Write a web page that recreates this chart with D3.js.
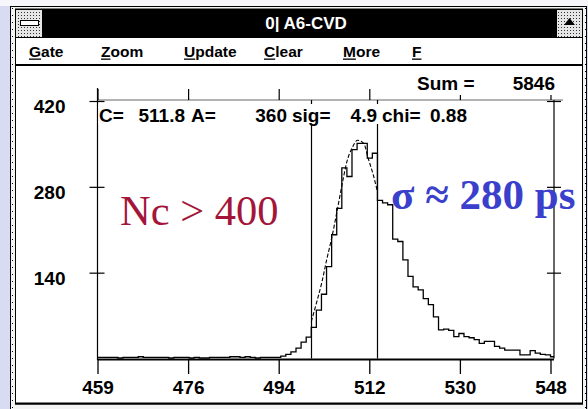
<!DOCTYPE html>
<html><head><meta charset="utf-8">
<script src="https://cdn.jsdelivr.net/npm/d3@7"></script>
<style>html,body{margin:0;padding:0;background:#dcdcf2;overflow:hidden}</style>
</head><body><svg id="c" width="588" height="409"></svg>
<script>
// ---------------- data ----------------
const windowTitle = "0| A6-CVD";
const menuItems = ["Gate", "Zoom", "Update", "Clear", "More", "F"];
const xTickLabels = ["459", "476", "494", "512", "530", "548"];
const xRange = [459, 548];
const yTickValues = [140, 280, 420];
const yMax = 420;
const firstChannel = 459;
const counts = [
  1,1,1,1,0,1,1,1,2,1, 1,1,1,1,0,1,1,1,0,1,   // 459-478
  0,0,1,1,1,1,2,2,1,2, 1,0,1,1,1,1,3,6,10,16, // 479-498
  26,34,50,78,104,149,201,244,310,296,       // 499-508
  340,350,350,326,334,257,253,250,194,190,   // 509-518
  160,133,116,111,97,87,67,46,47,45,         // 519-528
  35,40,35,33,30,24,27,27,19,16,             // 529-538
  13,13,13,5,5,12,8,6,5,2                    // 539-548
];
const fitX = [501.0, 502.0, 503.1, 504.0, 505.0, 506.4, 507.2, 508.0, 509.0, 510.1, 511.3, 512.2, 513.2, 514.0];
const fitY = [60, 90, 125, 160, 196, 255, 290, 321, 343, 356, 351, 326, 299, 272];
const markers = [501.0, 514.0];
const fitLabels = ["C=", "511.8", "A=", "360", "sig=", "4.9", "chi=", "0.88"];
const sumLabel = "Sum =";
const sumValue = "5846";
const noteLeft = "Nc > 400";
const noteRight = "σ ≈ 280 ps";

// ---------------- layout ----------------
const svg = d3.select("#c");
const W = 588, H = 409;
const plot = {left: 97.5, right: 554, top: 100, bottom: 358.5};
const x = d3.scaleLinear().domain(xRange).range([97.5, 550.5]);
const y = d3.scaleLinear().domain([0, yMax]).range([plot.bottom, 101]);
const sans = "'Liberation Sans', Arial, sans-serif";
const serif = "'Liberation Serif', 'Times New Roman', serif";

const defs = svg.append("defs");
const pat = defs.append("pattern").attr("id", "dots").attr("patternUnits", "userSpaceOnUse")
  .attr("width", 3).attr("height", 3);
pat.append("rect").attr("width", 3).attr("height", 3).attr("fill", "#e6e6e6");
pat.append("rect").attr("width", 1).attr("height", 1).attr("fill", "#333");
defs.append("clipPath").attr("id", "pclip").append("rect")
  .attr("x", plot.left).attr("y", plot.top).attr("width", plot.right - plot.left).attr("height", plot.bottom - plot.top + 1);

// background (slide)
svg.append("rect").attr("width", W).attr("height", H).attr("fill", "#d9dbf3");
svg.append("rect").attr("width", W).attr("height", 6).attr("fill", "#f6f6fb");

// window frame
svg.append("rect").attr("x", 10.5).attr("y", 6.5).attr("width", 576).attr("height", 404)
  .attr("fill", "#f4f4f4").attr("stroke", "#000");
svg.append("line").attr("x1", 12.5).attr("x2", 12.5).attr("y1", 8).attr("y2", 409)
  .attr("stroke", "#000").attr("stroke-dasharray", "1,6");
svg.append("line").attr("x1", 585.5).attr("x2", 585.5).attr("y1", 8).attr("y2", 409)
  .attr("stroke", "#000").attr("stroke-dasharray", "1,6");
svg.append("rect").attr("x", 15.5).attr("y", 9).attr("width", 567).attr("height", 395)
  .attr("fill", "#fff").attr("stroke", "#000");

// title bar
svg.append("rect").attr("x", 15).attr("y", 9).attr("width", 568).attr("height", 29).attr("fill", "#000");
svg.append("rect").attr("x", 16).attr("y", 10).attr("width", 26).attr("height", 27).attr("fill", "url(#dots)");
svg.append("rect").attr("x", 20.5).attr("y", 20.5).attr("width", 18).attr("height", 5)
  .attr("fill", "#fff").attr("stroke", "#000");
svg.append("rect").attr("x", 557).attr("y", 10).attr("width", 25).attr("height", 27).attr("fill", "url(#dots)");
svg.append("path").attr("d", "M569.5,18 L575,25 L564,25 Z").attr("fill", "#000");
svg.append("text").attr("x", 306).attr("y", 29).attr("text-anchor", "middle")
  .attr("font-family", sans).attr("font-weight", "bold").attr("font-size", 17)
  .attr("fill", "#fff").text(windowTitle);

// menu bar
svg.append("rect").attr("x", 16).attr("y", 38).attr("width", 566).attr("height", 26).attr("fill", "#fff");
svg.append("rect").attr("x", 15).attr("y", 64).attr("width", 568).attr("height", 2).attr("fill", "#000");
const menuX = [29, 101, 184, 264, 343, 412];
menuItems.forEach((m, i) => {
  const t = svg.append("text").attr("x", menuX[i]).attr("y", 57)
    .attr("font-family", sans).attr("font-weight", "bold").attr("font-size", 15.5).attr("fill", "#000");
  t.append("tspan").text(m[0]);
  t.append("tspan").text(m.slice(1));
  const w0 = t.node().getSubStringLength(0, 1);
  svg.append("rect").attr("x", menuX[i]).attr("y", 58.5).attr("width", w0).attr("height", 1.3).attr("fill", "#000");
});
// client bottom border
svg.append("rect").attr("x", 15).attr("y", 402.5).attr("width", 568).attr("height", 2).attr("fill", "#000");

// ---------------- plot ----------------
const g = svg.append("g");
// top line
g.append("line").attr("x1", plot.left).attr("x2", 563).attr("y1", plot.top).attr("y2", plot.top)
  .attr("stroke", "#666").attr("stroke-width", 1);
// marker lines
g.selectAll(".mk").data(markers).join("line")
  .attr("x1", d => Math.round(x(d)) + 0.5).attr("x2", d => Math.round(x(d)) + 0.5)
  .attr("y1", plot.top).attr("y2", plot.bottom).attr("stroke", "#000").attr("stroke-width", 1.2);

// histogram
const pts = counts.map((c, i) => [firstChannel + i, c]);
pts.push([firstChannel + counts.length, counts[counts.length - 1]]);
const hist = d3.line().x(d => x(d[0])).y(d => y(d[1]) - 0.5).curve(d3.curveStepAfter);
g.append("path").attr("d", hist(pts)).attr("fill", "none").attr("stroke", "#000")
  .attr("stroke-width", 1.3).attr("clip-path", "url(#pclip)");

// fit curve (dashed)
const fitLine = d3.line().x(d => x(d[0])).y(d => y(d[1])).curve(d3.curveMonotoneX);
g.append("path").attr("d", fitLine(fitX.map((v, i) => [v, fitY[i]])))
  .attr("fill", "none").attr("stroke", "#000").attr("stroke-width", 1.1)
  .attr("stroke-dasharray", "4,2");

// axes frame lines
g.append("line").attr("x1", plot.left).attr("x2", plot.left).attr("y1", 88).attr("y2", 360)
  .attr("stroke", "#000").attr("stroke-width", 1.2);
g.append("line").attr("x1", plot.right).attr("x2", plot.right).attr("y1", plot.top).attr("y2", plot.bottom)
  .attr("stroke", "#000").attr("stroke-width", 1.2);
g.append("line").attr("x1", plot.left).attr("x2", plot.right).attr("y1", 359.5).attr("y2", 359.5)
  .attr("stroke", "#000").attr("stroke-width", 2);

const tickVals = xTickLabels.map((_, i) => xRange[0] + i * (xRange[1] - xRange[0]) / (xTickLabels.length - 1));
// bottom axis
const ax = g.append("g").attr("transform", "translate(0,360)")
  .call(d3.axisBottom(x).tickValues(tickVals).tickFormat((d, i) => xTickLabels[i]).tickSize(14).tickPadding(7));
ax.select(".domain").remove();
ax.selectAll("line").attr("stroke", "#000").attr("stroke-width", 1.3);
ax.selectAll("text").attr("font-family", sans).attr("font-weight", "bold").attr("font-size", 19).attr("fill", "#000");
// top ticks
const at = g.append("g").attr("transform", `translate(0,${plot.top})`)
  .call(d3.axisTop(x).tickValues(tickVals).tickFormat("").tickSize(11));
at.select(".domain").remove();
at.selectAll("line").attr("stroke", "#000").attr("stroke-width", 1.2);
// left axis
const al = g.append("g").attr("transform", `translate(${plot.left},0)`)
  .call(d3.axisLeft(y).tickValues(yTickValues).tickSize(8).tickPadding(24));
al.select(".domain").remove();
al.selectAll("line").attr("x1", 7).attr("stroke", "#000").attr("stroke-width", 1.2);
al.selectAll("text").attr("dy", "0.62em").attr("font-family", sans).attr("font-weight", "bold")
  .attr("font-size", 19).attr("fill", "#000");
// right axis
const ar = g.append("g").attr("transform", `translate(${plot.right},0)`)
  .call(d3.axisRight(y).tickValues(yTickValues).tickFormat("").tickSize(7));
ar.select(".domain").remove();
ar.selectAll("line").attr("x1", -7).attr("stroke", "#000").attr("stroke-width", 1.2);

// fit info text with white background
g.append("rect").attr("x", plot.left + 1).attr("y", 104).attr("width", 372).attr("height", 20).attr("fill", "#fff");
const fitPos = [{x: 99, a: "start"}, {x: 185, a: "end"}, {x: 191, a: "start"}, {x: 287, a: "end"},
                {x: 292, a: "start"}, {x: 377, a: "end"}, {x: 382, a: "start"}, {x: 467, a: "end"}];
fitLabels.forEach((t, i) => {
  g.append("text").attr("x", fitPos[i].x).attr("y", 122).attr("text-anchor", fitPos[i].a)
    .attr("font-family", sans).attr("font-weight", "bold").attr("font-size", 19).attr("fill", "#000").text(t);
});
// sum text
g.append("rect").attr("x", 410).attr("y", 70).attr("width", 150).attr("height", 25).attr("fill", "#fff");
g.append("text").attr("x", 417).attr("y", 90).attr("font-family", sans).attr("font-weight", "bold")
  .attr("font-size", 19).attr("fill", "#000").text(sumLabel);
g.append("text").attr("x", 555).attr("y", 90).attr("text-anchor", "end").attr("font-family", sans)
  .attr("font-weight", "bold").attr("font-size", 19).attr("fill", "#000").text(sumValue);

// annotations
svg.append("text").attr("x", 120).attr("y", 225).attr("font-family", serif).attr("font-size", 42.5)
  .attr("fill", "#a3163a").text(noteLeft);
svg.append("text").attr("x", 391).attr("y", 209).attr("font-family", serif).attr("font-weight", "bold")
  .attr("font-size", 43).attr("fill", "#3a3fcc").text(noteRight);
</script>
</body></html>
